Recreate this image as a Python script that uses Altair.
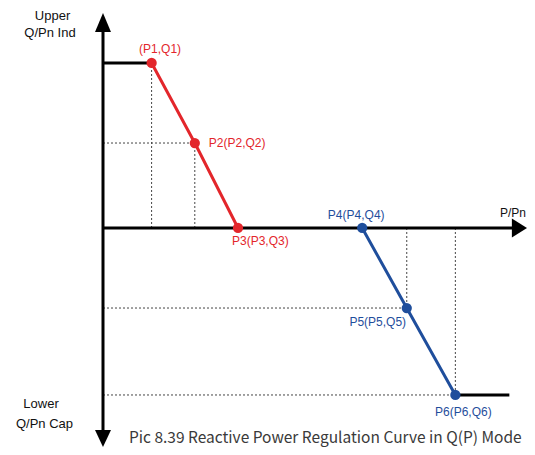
import altair as alt
import pandas as pd

# ---- schematic values (abstract units: P relative to P3, Q relative to Q1) ----
point_names = ["P1", "P2", "P3", "P4", "P5", "P6"]
point_labels = ["(P1,Q1)", "P2(P2,Q2)", "P3(P3,Q3)", "P4(P4,Q4)", "P5(P5,Q5)", "P6(P6,Q6)"]
p_values = [0.36, 0.68, 1.0, 1.92, 2.25, 2.61]
q_values = [1.0, 0.515, 0.0, 0.0, -0.485, -1.012]
segment = ["ind", "ind", "ind", "cap", "cap", "cap"]

p_plateau_end = 3.01      # end of the lower (capacitive) plateau
p_axis_base = 3.04        # x-axis line end (arrow base)
p_arrow = 3.085           # x-axis arrowhead
q_axis_top = 1.19         # y-axis line top (arrow base)
q_axis_bottom = -1.225    # y-axis line bottom (arrow base)
q_arrow_up = 1.2455
q_arrow_down = -1.2758

RED = "#e3262b"
BLUE = "#1f4e9c"
W, H = 519, 439

XS = alt.Scale(domain=[-0.7037, 3.1407], nice=False, zero=False)
YS = alt.Scale(domain=[-1.3273, 1.3333], nice=False, zero=False)


def X(f="p"):
    return alt.X(f"{f}:Q", scale=XS, axis=None)


def Y(f="q"):
    return alt.Y(f"{f}:Q", scale=YS, axis=None)


pts = pd.DataFrame({"name": point_names, "label": point_labels, "p": p_values,
                    "q": q_values, "seg": segment})
P = dict(zip(point_names, p_values))
Q = dict(zip(point_names, q_values))

# dotted guide lines
guides = pd.DataFrame([
    {"p": P["P1"], "q": 0.0, "p2": P["P1"], "q2": Q["P1"]},
    {"p": P["P2"], "q": 0.0, "p2": P["P2"], "q2": Q["P2"]},
    {"p": 0.0, "q": Q["P2"], "p2": P["P2"], "q2": Q["P2"]},
    {"p": P["P5"], "q": 0.0, "p2": P["P5"], "q2": Q["P5"]},
    {"p": 0.0, "q": Q["P5"], "p2": P["P5"], "q2": Q["P5"]},
    {"p": P["P6"], "q": 0.0, "p2": P["P6"], "q2": Q["P6"]},
    {"p": 0.0, "q": Q["P6"], "p2": P["P6"], "q2": Q["P6"]},
])
guide_layer = alt.Chart(guides).mark_rule(
    color="#444444", strokeWidth=1, strokeDash=[2, 2]
).encode(x=X(), y=Y(), x2="p2:Q", y2="q2:Q")

# axes and black plateaus
black = pd.DataFrame([
    {"p": 0.0, "q": 0.0, "p2": p_axis_base, "q2": 0.0},
    {"p": 0.0, "q": q_axis_top, "p2": 0.0, "q2": q_axis_bottom},
    {"p": 0.0, "q": Q["P1"], "p2": P["P1"], "q2": Q["P1"]},
    {"p": P["P6"], "q": Q["P6"], "p2": p_plateau_end, "q2": Q["P6"]},
])
black_layer = alt.Chart(black).mark_rule(color="black", strokeWidth=3).encode(
    x=X(), y=Y(), x2="p2:Q", y2="q2:Q")

color = alt.Color("seg:N", scale=alt.Scale(domain=["ind", "cap"], range=[RED, BLUE]), legend=None)
line_layer = alt.Chart(pts).mark_line(strokeWidth=3).encode(
    x=X(), y=Y(), color=color, detail="seg:N", order="p:Q")
dot_layer = alt.Chart(pts).mark_circle(size=105, opacity=1).encode(x=X(), y=Y(), color=color)

# point labels
offsets = {
    "P1": dict(dx=8.5, dy=-13.5, align="center"),
    "P2": dict(dx=14, dy=-0.5, align="left"),
    "P3": dict(dx=-6, dy=13, align="left"),
    "P4": dict(dx=-6, dy=-13, align="center"),
    "P5": dict(dx=-29, dy=14, align="center"),
    "P6": dict(dx=8, dy=17, align="center"),
}
label_layers = []
for name, seg in zip(point_names, segment):
    o = offsets[name]
    label_layers.append(
        alt.Chart(pts[pts["name"] == name]).mark_text(
            font="Liberation Sans", fontSize=12, baseline="middle",
            color=RED if seg == "ind" else BLUE, **o
        ).encode(x=X(), y=Y(), text="label:N")
    )

# arrowheads
arrows = pd.DataFrame({
    "p": [p_arrow, 0.0, 0.0],
    "q": [0.0, q_arrow_up, q_arrow_down],
    "dir": ["right", "up", "down"],
})
arrow_shapes = {
    "right": ("M-0.8,-1L0.8,0L-0.8,1Z", 361),
    "up": ("M0,-1L0.84,1L-0.84,1Z", 361),
    "down": ("M-0.94,-1L0.94,-1L0,1Z", 289),
}
arrow_layers = [
    alt.Chart(arrows[arrows["dir"] == d]).mark_point(
        shape=s, size=sz, filled=True, fill="black", opacity=1, strokeWidth=0
    ).encode(x=X(), y=Y())
    for d, (s, sz) in arrow_shapes.items()
]

# captions
one = pd.DataFrame({"k": [0]})


def caption(text, x, y, size=13.5, align="center", font="Liberation Sans", color="#111111"):
    return alt.Chart(one).mark_text(
        text=text, font=font, fontSize=size, align=align, baseline="alphabetic", color=color
    ).encode(x=alt.value(x), y=alt.value(y))


captions = [
    caption("Upper", 44.5, 11.5, size=13),
    caption("Q/Pn Ind", 42, 28.5, size=13),
    caption("Lower", 33, 400, size=13),
    caption("Q/Pn Cap", 36.5, 420, size=13),
    caption("P/Pn", 518, 209, size=12, align="right"),
    caption("Pic 8.39 Reactive Power Regulation Curve in Q(P) Mode", 121, 434.5, size=15.5,
            align="left", font="Noto Sans CJK SC", color="#3a3a3a"),
]

chart = alt.layer(
    guide_layer, black_layer, line_layer, dot_layer, *arrow_layers, *label_layers, *captions
).properties(
    width=W, height=H, padding=0, autosize=alt.AutoSizeParams(type="none")
).configure_view(stroke=None)

chart.save("out.html", embed_options={"renderer": "svg", "actions": False})
